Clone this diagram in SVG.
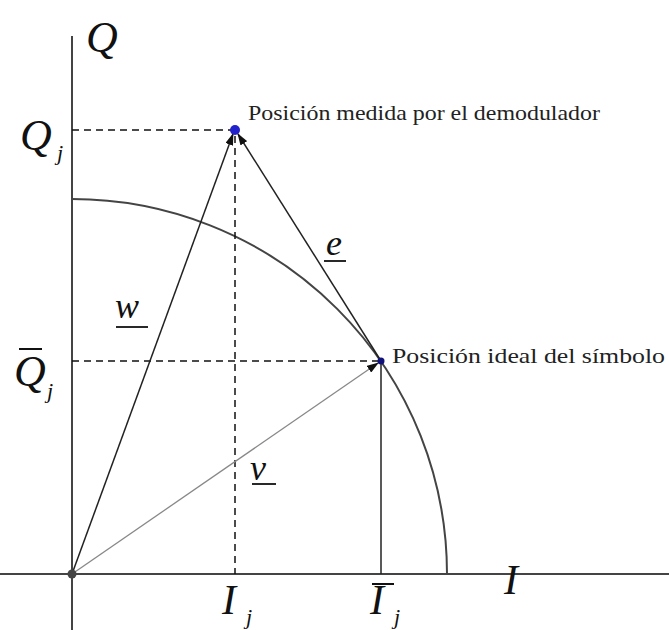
<svg xmlns="http://www.w3.org/2000/svg" width="669" height="630" viewBox="0 0 669 630">
<style>
.ax{stroke:#444;stroke-width:2;fill:none}
.dash{stroke:#111;stroke-width:1.5;stroke-dasharray:7,5;fill:none}
.vec{stroke:#222;stroke-width:1.5;fill:none}
.m{font-family:"Liberation Serif",serif;font-style:italic;fill:#111}
.lbl{font-family:"Liberation Serif",serif;font-size:21px;fill:#222}
</style>
<defs>
<marker id="ah" viewBox="0 0 12 8" refX="11" refY="4" markerWidth="12" markerHeight="8" markerUnits="userSpaceOnUse" orient="auto">
<path d="M0,0 L12,4 L0,8 z" fill="#111"/>
</marker>
</defs>
<g id="axes">
<line class="ax" x1="0" y1="574" x2="669" y2="574"/>
<line class="ax" x1="72" y1="36" x2="72" y2="630"/>
<path class="ax" d="M72,199 A375,375 0 0 1 447,574"/>
</g>
<g id="connectors">
<line class="dash" x1="72" y1="130" x2="235" y2="130"/>
<line class="dash" x1="235" y1="136" x2="235" y2="574"/>
<line class="dash" x1="72" y1="361" x2="381" y2="361"/>
<line class="vec" x1="381" y1="361" x2="381" y2="574"/>
<line x1="72" y1="574" x2="378" y2="363" stroke="#888" stroke-width="1.3" marker-end="url(#ah)"/>
<line class="vec" x1="72" y1="574" x2="233" y2="134" marker-end="url(#ah)"/>
<line class="vec" x1="381" y1="361" x2="238" y2="134" marker-end="url(#ah)"/>
</g>
<g id="origin"><circle cx="72" cy="574" r="4.5" fill="#444"/></g>
<g id="measured">
<circle cx="235" cy="130" r="5" fill="#2222cc"/>
<text class="lbl" x="248" y="120" textLength="352" lengthAdjust="spacingAndGlyphs">Posición medida por el demodulador</text>
</g>
<g id="ideal">
<circle cx="381" cy="361" r="3.5" fill="#11117a"/>
<text class="lbl" x="392" y="363" textLength="273" lengthAdjust="spacingAndGlyphs">Posición ideal del símbolo</text>
</g>
<g id="labels">
<text class="m" x="86" y="52" font-size="44">Q</text>
<text class="m" x="20" y="150" font-size="44">Q</text>
<text class="m" x="57" y="160" font-size="22">j</text>
<text class="m" x="14" y="386" font-size="44">Q</text>
<line x1="19" y1="349" x2="42" y2="349" stroke="#111" stroke-width="2"/>
<text class="m" x="47" y="398" font-size="22">j</text>
<text class="m" x="504" y="594" font-size="42">I</text>
<text class="m" x="222" y="614" font-size="42">I</text>
<text class="m" x="246" y="624" font-size="22">j</text>
<text class="m" x="370" y="614" font-size="42">I</text>
<line x1="372" y1="584" x2="394" y2="584" stroke="#111" stroke-width="2"/>
<text class="m" x="394" y="624" font-size="22">j</text>
<text class="m" x="115" y="318" font-size="36">w</text>
<line x1="116" y1="327" x2="148" y2="327" stroke="#111" stroke-width="1.8"/>
<text class="m" x="250" y="480" font-size="36">v</text>
<line x1="252" y1="484" x2="276" y2="484" stroke="#111" stroke-width="1.8"/>
<text class="m" x="326" y="255" font-size="36">e</text>
<line x1="324" y1="261" x2="346" y2="261" stroke="#111" stroke-width="1.8"/>
</g>
</svg>
